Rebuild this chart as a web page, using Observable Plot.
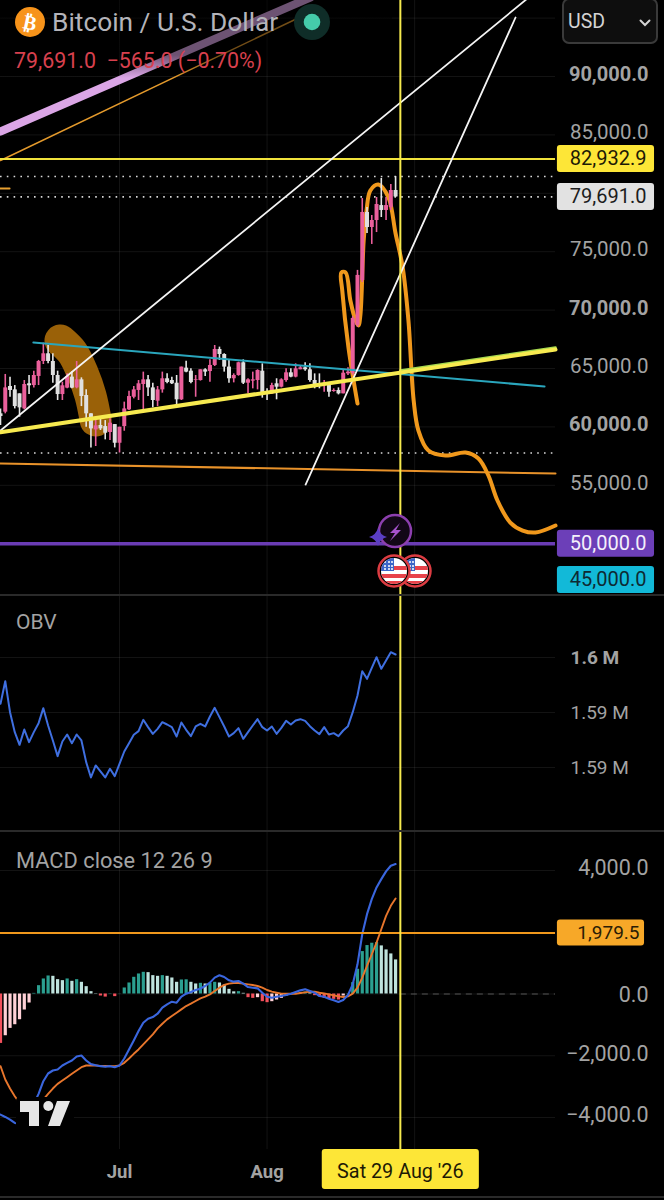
<!DOCTYPE html>
<html>
<head>
<meta charset="utf-8">
<script src="https://cdn.jsdelivr.net/npm/d3@7"></script>
<script src="https://cdn.jsdelivr.net/npm/@observablehq/plot@0.6"></script>
<style>
html,body{margin:0;padding:0;background:#000;}
#stage{position:relative;width:664px;height:1200px;overflow:hidden;background:#000;font-family:Roboto,sans-serif;}
#stage>svg,#stage>div.abs,#stage>.pane{position:absolute;}
.pane svg{display:block;}
.label{position:absolute;white-space:nowrap;line-height:1;}
</style>
</head>
<body>
<div id="stage"></div>
<script>
// ---------- price candles (daily, first candle 6 Jun 2026) ----------
const firstDay = Date.UTC(2026, 5, 6);
const candleOpen = [61120,61260,63460,63170,62830,61540,63690,63540,64320,65600,66260,65600,64400,62770,63320,64260,63340,64030,62690,61120,59740,60120,60030,59520,60200,58600,60030,61460,62540,63120,63630,64030,63340,62200,63170,64120,63970,63740,62320,65030,64770,63970,63970,64890,64740,65260,66630,66200,65120,64120,64400,65490,63740,63920,63970,64770,63030,62830,63690,63400,63970,64630,64260,64890,65060,64890,63970,63690,63540,63540,63030,63120,62830,64540,64570,68690,72530,78360,77070,77670,78950,78530,78780,80240];
const candleHigh = [61540,64490,64260,63540,62830,63970,64400,64770,65690,67170,66970,66260,64770,63830,64540,64690,65600,64200,63170,61120,60830,60830,60540,60690,60200,59970,62120,63060,63460,63970,64690,64400,63740,63460,64690,64540,64260,64400,65120,65630,64970,64400,64890,64970,65740,66970,66830,66260,65740,64540,65540,65740,64120,64690,64890,65400,63260,63740,64120,64120,64970,64970,65400,65170,65490,65400,64540,64540,63970,63630,63260,63340,64830,65060,69460,73400,79550,78780,78100,79640,81270,79640,80750,81440];
const candleLow = [60120,61120,62540,61540,60830,61460,62770,63340,63540,65340,65400,63740,62260,62260,63260,63260,63260,61740,59970,58200,58320,59690,58890,58830,58200,57770,59630,61400,62400,62260,61340,62600,61630,61740,62890,63690,63630,61920,62260,64630,63690,62540,63920,64320,63830,65170,65690,64690,63740,63770,64340,63630,62830,63260,63170,62460,62260,62770,62320,63340,63830,64200,64200,64890,64770,63830,63260,63260,62970,62540,62970,62740,62830,64400,64400,68520,72360,76560,75620,76640,77930,77670,78530,79640];
const candleClose = [60890,63340,63120,61740,61630,63630,63520,64400,65600,66260,65600,64400,62770,63520,64320,63320,64030,62600,61120,59830,60090,59830,59460,60320,58600,59970,61540,62600,63170,63690,64030,63340,62260,63170,64120,63800,63690,62320,65120,64690,63800,64030,64890,64690,65260,66630,66200,65120,64120,64400,65490,63740,64030,64030,64830,62890,62890,63540,63400,64030,64630,64260,64970,65060,64890,63970,63540,63540,63690,62970,63120,62830,64600,64690,69290,72970,78360,77070,77670,79040,78530,78950,80240,79691];

// ---------- indicators ----------
const obv = [1595788,1597848,1595031,1593213,1592061,1593455,1592304,1593213,1594031,1595394,1593819,1592455,1591031,1592364,1593000,1592213,1593000,1592455,1590486,1589092,1590183,1589637,1589092,1589880,1589213,1590334,1591455,1592213,1592970,1593303,1594334,1593667,1593061,1593515,1594121,1593909,1593667,1592819,1594091,1593425,1592849,1593728,1593970,1593728,1594637,1595424,1594576,1593728,1592819,1593122,1593576,1592607,1593213,1593819,1594394,1593667,1593364,1593728,1593061,1593606,1594243,1593909,1594273,1594394,1594243,1593758,1593364,1593031,1593667,1593000,1593122,1592849,1593364,1593758,1595031,1596546,1598757,1598060,1599060,1600030,1598970,1599727,1600485,1600273];
const macdLine = [-3906,-3982,-4069,-4177,-4198,-4014,-3798,-3560,-3235,-2824,-2575,-2478,-2445,-2316,-2229,-2153,-2024,-1991,-2153,-2272,-2305,-2337,-2359,-2337,-2370,-2316,-2088,-1796,-1504,-1201,-931,-801,-747,-639,-444,-336,-249,-282,-87,11,65,130,173,259,368,530,606,551,443,400,421,335,226,205,183,42,-87,-120,-87,-66,-33,10,64,118,151,97,42,-66,-87,-152,-206,-260,-196,-33,313,962,1936,2585,3072,3451,3721,3970,4154,4208];
const macdSignal = [-2337,-2770,-3062,-3311,-3527,-3744,-3798,-3711,-3560,-3419,-3235,-3062,-2911,-2803,-2694,-2586,-2478,-2370,-2316,-2316,-2316,-2327,-2327,-2337,-2337,-2316,-2229,-2088,-1937,-1796,-1634,-1472,-1309,-1115,-963,-822,-714,-606,-498,-390,-314,-228,-141,-87,-12,97,205,291,335,356,356,335,313,291,259,205,129,75,42,10,10,10,10,32,53,75,75,42,21,-12,-44,-77,-98,-77,10,205,529,908,1287,1666,2098,2531,2856,3094];
const macdHist = [-1601,-1352,-1114,-995,-833,-519,-292,20,270,487,584,573,465,433,487,411,465,379,238,76,11,-65,-100,10,-85,5,195,357,541,649,703,692,595,573,595,573,519,379,454,460,379,325,346,325,345,379,357,292,151,70,76,22,-119,-141,-119,-249,-281,-249,-195,-141,-65,-22,22,43,65,43,-54,-87,-141,-173,-173,-195,-65,10,368,801,1374,1569,1645,1666,1558,1428,1298,1104];

// ---------- drawn lines: day offsets from the first candle, and prices ----------
const lavenderDays = [0,65.1], lavenderPrices = [85290,96764];
const thinOrangeDays = [0,64.1], thinOrangePrices = [82808,95308];
const whiteADays = [0,110.7], whiteAPrices = [59690,96678];
const whiteBDays = [64.1,108.2], whiteBPrices = [55066,95051];
const trendDays = [0,116.6], trendPrices = [59545,66626];
const greenDays = [84,116.6], greenPrices = [64827,66797];
const tealDays = [6.9,114.3], tealPrices = [67225,63457];
const floorDays = [0,116.6], floorPrices = [56865,56008];
const stubDays = [0,1.9], stubPrices = [80410,80410];
const brushDays = [12.6,15.1,17.2,18.9,20], brushPrices = [67396,66369,64656,62687,60547];
const projectionDays = [75,73.1,71.8,71.6,72.5,73.5,74.6,75.2,75.6,76.3,76.9,77.7,79.4,81.5,83,84.5,85.7,86.8,87.8,89.9,93.5,97.7,100.4,102.5,104.4,107.1,109.7,112.4,116.6];
const projectionPrices = [62002,66797,71677,73218,73218,70821,69109,68680,69537,75958,78527,80239,80753,79640,76557,73646,69109,62259,59690,57978,57550,57807,57293,55837,53697,51813,51128,50957,51557];

// ---------- axes and tags ----------
const gridPrices = [95000,90000,85000,80000,75000,70000,65000,60000,55000];
const labelPrices = [85000,75000,65000,55000];
const labelPricesBold = [90000,70000,60000];
const priceTagLevels = [82932.9,79691,50000,46890];
const priceTagText = ["82,932.9","79,691.0","50,000.0","45,000.0"];
const obvTicks = [1600000,1595000,1590000];
const obvTickText = ["1.6 M","1.59 M","1.59 M"];
const macdTicks = [4000,-2000,-4000];
const macdTickText = ["4,000.0","−2,000.0","−4,000.0"];
const macdZero = 0, macdZeroText = "0.0";
const macdLevel = 1979.5, macdLevelText = "1,979.5";
const monthDays = [25,56], monthNames = ["Jul","Aug"], gridDays = [25,56,87];
const cursorDay = 84, cursorText = "Sat 29 Aug '26";

// ---------- styles ----------
const W = 664, FONT = "Roboto, sans-serif";
const GRID = "rgba(255,255,255,0.075)", YEL = "#f6ea4e", ORANGE = "#f0981c", TAGY = "#fde637";
const EDGE = 116.6;
const day = d => new Date(firstDay + d * 864e5);
const xScale = {type: "utc", domain: [day(0), day(664 / 4.76)], range: [0, W], axis: null};
const seg = (ds, vs) => ds.map((d, i) => ({x: day(d), y: vs[i]}));
const ln = (ds, vs, o) => Plot.line(seg(ds, vs), {x: "x", y: "y", ...o});
const candles = candleOpen.map((o, i) => ({x: day(i), o, h: candleHigh[i], l: candleLow[i], c: candleClose[i], up: candleClose[i] >= o}));
const base = {width: W, margin: 0, marginTop: 0, marginRight: 0, marginBottom: 0, marginLeft: 0,
  x: xScale, style: {background: "#000", fontFamily: FONT}};
const gridMarks = ticks => [
  Plot.ruleX(gridDays.map(day), {stroke: GRID, strokeWidth: 1}),
  Plot.ruleY(ticks, {x1: day(0), x2: day(EDGE), stroke: GRID, strokeWidth: 1})
];
const cursorRule = () => Plot.ruleX([day(cursorDay)], {stroke: YEL, strokeWidth: 2});
const dotted = (v) => Plot.ruleY([v], {x1: day(0), x2: day(EDGE), stroke: "#d8d8d8", strokeWidth: 1.6, strokeDasharray: "1.6 5.2"});

// ---------- price pane ----------
const hi = d3.max(candleHigh), lo = d3.min(candleLow), last = candleClose[candleClose.length - 1];
const tagFill = [TAGY, "#e2e2e2", "#6c3fb8", "#12b9d8"], tagInk = ["#1d1a05", "#1c1c1c", "#f4f0fb", "#0e2a33"];
const tags = priceTagLevels.map((v, i) => ({v, t: priceTagText[i], fill: tagFill[i], ink: tagInk[i]}));
const pricePane = Plot.plot({...base, height: 594,
  y: {type: "linear", domain: [90000, 50000], range: [76, 543.2], axis: null},
  marks: [
    ...gridMarks(gridPrices),
    ln(brushDays, brushPrices, {stroke: "#9a6108", strokeWidth: 32, strokeLinecap: "round", strokeLinejoin: "round", curve: "catmull-rom"}),
    ln(lavenderDays, lavenderPrices, {stroke: "#dba6e6", strokeWidth: 8}),
    ln(thinOrangeDays, thinOrangePrices, {stroke: "#e49a2c", strokeWidth: 1.5}),
    ln(floorDays, floorPrices, {stroke: "#e8922a", strokeWidth: 2}),
    ln(stubDays, stubPrices, {stroke: "#e8a030", strokeWidth: 2}),
    Plot.ruleY([50000], {x1: day(0), x2: day(EDGE), stroke: "#6a3cb4", strokeWidth: 3.5}),
    Plot.ruleY([priceTagLevels[0]], {x1: day(0), x2: day(EDGE), stroke: "#f1e33c", strokeWidth: 2}),
    dotted(hi), dotted(last), dotted(lo),
    ln(projectionDays, projectionPrices, {stroke: ORANGE, strokeWidth: 4, strokeLinecap: "round", curve: "catmull-rom"}),
    Plot.ruleX(candles, {x: "x", y1: "l", y2: "h", stroke: d => d.up ? "#ea5f9b" : "#e6e6e6", strokeWidth: 1.6}),
    Plot.ruleX(candles, {x: "x", y1: "o", y2: "c", stroke: d => d.up ? "#ea5f9b" : "#e0e0e0", strokeWidth: 4}),
    ln(tealDays, tealPrices, {stroke: "#2aa6bd", strokeWidth: 2}),
    ln(whiteADays, whiteAPrices, {stroke: "#f4f4f4", strokeWidth: 1.8}),
    ln(whiteBDays, whiteBPrices, {stroke: "#f4f4f4", strokeWidth: 1.8}),
    ln(greenDays, greenPrices, {stroke: "#a7d94f", strokeWidth: 2.5}),
    ln(trendDays, trendPrices, {stroke: "#f7ea50", strokeWidth: 4}),
    cursorRule(),
    Plot.text(labelPrices, {y: d => d, frameAnchor: "right", dx: -16, dy: -2, textAnchor: "end", text: d => d3.format(",.1f")(d), fill: "#a3a3a3", fontSize: 20.5}),
    Plot.text(labelPricesBold, {y: d => d, frameAnchor: "right", dx: -16, dy: -2, textAnchor: "end", text: d => d3.format(",.1f")(d), fill: "#a3a3a3", fontSize: 20, fontWeight: 700}),
    Plot.rect(tags, {x1: day(117), x2: day(137.4), y1: "v", y2: "v", insetTop: -13.5, insetBottom: -13.5, rx: 3, fill: "fill"}),
    Plot.text(tags, {y: "v", frameAnchor: "right", dx: -18, textAnchor: "end", text: "t", fill: "ink", fontSize: 20})
  ]});

// ---------- OBV pane ----------
const obvRows = obv.map((v, i) => ({x: day(i), y: v}));
const obvPane = Plot.plot({...base, height: 235,
  y: {type: "linear", domain: [1600000, 1590000], range: [62, 172], axis: null},
  marks: [
    ...gridMarks(obvTicks),
    Plot.line(obvRows, {x: "x", y: "y", stroke: "#3f6fe0", strokeWidth: 2}),
    cursorRule(),
    Plot.text([obvTicks[0]], {y: d => d, frameAnchor: "left", dx: 570, textAnchor: "start", text: () => obvTickText[0], fill: "#a3a3a3", fontSize: 19, fontWeight: 700}),
    Plot.text(obvTicks.slice(1), {y: d => d, frameAnchor: "left", dx: 570, textAnchor: "start", text: (d, i) => obvTickText[i + 1], fill: "#a3a3a3", fontSize: 19})
  ]});

// ---------- MACD pane ----------
const histRows = macdHist.map((v, i) => {
  const rising = i > 0 && v > macdHist[i - 1];
  return {x: day(i), v, fill: v >= 0 ? (rising ? "#2b9f90" : "#bfe3de") : (rising ? "#ffd0d6" : "#f2505c")};
});
const macdPane = Plot.plot({...base, height: 318,
  y: {type: "linear", domain: [4000, -4000], range: [39, 286], axis: null},
  marks: [
    ...gridMarks([...macdTicks, macdZero]),
    Plot.ruleY([macdZero], {x1: day(cursorDay), x2: day(EDGE), stroke: "#555", strokeWidth: 1, strokeDasharray: "6 5"}),
    Plot.ruleX(histRows, {x: "x", y1: 0, y2: "v", stroke: "fill", strokeWidth: 3.2}),
    Plot.line(macdSignal.map((v, i) => ({x: day(i), y: v})), {x: "x", y: "y", stroke: "#e8762c", strokeWidth: 1.9}),
    Plot.line(macdLine.map((v, i) => ({x: day(i), y: v})), {x: "x", y: "y", stroke: "#3a66de", strokeWidth: 2.1}),
    Plot.ruleY([macdLevel], {x1: day(0), x2: day(EDGE), stroke: ORANGE, strokeWidth: 2}),
    cursorRule(),
    Plot.text(macdTicks, {y: d => d, frameAnchor: "right", dx: -16, dy: -2, textAnchor: "end", text: (d, i) => macdTickText[i], fill: "#a3a3a3", fontSize: 21.5}),
    Plot.text([macdZero], {y: d => d, frameAnchor: "right", dx: -16, dy: 1, textAnchor: "end", text: () => macdZeroText, fill: "#a3a3a3", fontSize: 21.5}),
    Plot.rect([macdLevel], {x1: day(117), x2: day(135.3), y1: d => d, y2: d => d, insetTop: -13, insetBottom: -13, rx: 3, fill: "#f7a828"}),
    Plot.text([macdLevel], {y: d => d, frameAnchor: "right", dx: -25, textAnchor: "end", text: () => macdLevelText, fill: "#2a1c05", fontSize: 19})
  ]});

// ---------- date axis ----------
const datePane = Plot.plot({...base, height: 40, y: {axis: null},
  marks: [
    Plot.text(monthDays, {x: day, frameAnchor: "middle", dy: 3, text: (d, i) => monthNames[i], fill: "#a3a3a3", fontSize: 18.5, fontWeight: 700, textAnchor: "middle"}),
    Plot.rect([cursorDay], {x1: day(67.6), x2: day(100.6), rx: 3, fill: TAGY}),
    Plot.text([cursorDay], {x: day, frameAnchor: "middle", dy: 2, text: () => cursorText, fill: "#1d1a05", fontSize: 19.8, textAnchor: "middle"})
  ]});

// ---------- page assembly ----------
const stage = document.getElementById("stage");
const place = (node, top) => { const w = document.createElement("div"); w.className = "pane"; w.style.top = top + "px"; w.style.left = "0"; w.append(node); stage.append(w); };
place(pricePane, 0); place(obvPane, 595); place(macdPane, 831); place(datePane, 1149);

const html = (s) => { const t = document.createElement("template"); t.innerHTML = s.trim(); stage.append(t.content.firstChild); };
// header dimming over the drawings
html(`<div class="abs" style="left:0;top:0;width:392px;height:78px;background:linear-gradient(rgba(0,0,0,.5) 0,rgba(0,0,0,.5) 55px,rgba(0,0,0,0) 78px)"></div>`);
// dividers
for (const y of [594, 830, 1196]) html(`<div class="abs" style="left:0;top:${y}px;width:664px;height:2px;background:#2a2a2a"></div>`);
// header
html(`<svg width="664" height="80" style="position:absolute;left:0;top:0;pointer-events:none">
  <circle cx="30" cy="22" r="15" fill="#f7931a"/>
  <text x="30" y="29.5" text-anchor="middle" font-family="DejaVu Sans" font-weight="700" font-size="20" fill="#fff" transform="rotate(12 30 22)">₿</text>
  <circle cx="312" cy="22" r="18" fill="#0f2d28"/><circle cx="312" cy="22" r="8.3" fill="#45cbaa"/>
</svg>`);
html(`<span class="label" style="left:52px;top:9px;font-size:26.3px;color:#b4b4ba">Bitcoin / U.S. Dollar</span>`);
html(`<span class="label" style="left:14px;top:50px;font-size:21.4px;color:#d8404e">79,691.0&nbsp; −565.0 (−0.70%)</span>`);
html(`<span class="label" style="left:16px;top:612px;font-size:21px;color:#a3a3a3">OBV</span>`);
html(`<span class="label" style="left:16px;top:850px;font-size:21.8px;color:#a3a3a3">MACD close 12 26 9</span>`);
// currency box
html(`<div class="abs" style="left:562px;top:-2px;width:92px;height:42px;border:2px solid #3a3a3a;border-radius:7px;background:#0e0e0e"></div>`);
html(`<span class="label" style="left:568px;top:12px;font-size:19.5px;color:#d4d4d4">USD</span>`);
html(`<svg width="14" height="10" style="position:absolute;left:638px;top:18px"><path d="M2.5 2.5 L7 7 L11.5 2.5" fill="none" stroke="#d4d4d4" stroke-width="2" stroke-linecap="round"/></svg>`);
// event icons and watermark
html(`<svg width="664" height="1200" style="position:absolute;left:0;top:0;pointer-events:none">
  <defs>
    <clipPath id="fa"><circle cx="394" cy="571" r="13"/></clipPath>
    <clipPath id="fb"><circle cx="415" cy="571" r="13"/></clipPath>
    <g id="flag"><rect x="-13" y="-13" width="26" height="26" fill="#fff"/>
      <rect x="-13" y="-5" width="26" height="4" fill="#e8424a"/><rect x="-13" y="3" width="26" height="4" fill="#e8424a"/><rect x="-13" y="10" width="26" height="4" fill="#e8424a"/>
      <rect x="-13" y="-13" width="13" height="13" fill="#3c66c8"/>
      <g fill="#fff"><circle cx="-9" cy="-9" r="1"/><circle cx="-5" cy="-9" r="1"/><circle cx="-2" cy="-9" r="1"/><circle cx="-9" cy="-5" r="1"/><circle cx="-5" cy="-5" r="1"/><circle cx="-2" cy="-5" r="1"/><circle cx="-9" cy="-2" r="1"/><circle cx="-5" cy="-2" r="1"/><circle cx="-2" cy="-2" r="1"/></g></g>
  </defs>
  <circle cx="395" cy="531" r="16" fill="#120716" stroke="#8c3fae" stroke-width="2.5"/>
  <path d="M400 523 L390 533 L395 533 L390 541 L401 530 L396 530 Z" fill="#a653cc"/>
  <path d="M378 528 Q380 535 387 537 Q380 539 378 546 Q376 539 369 537 Q376 535 378 528 Z" fill="#5a3ec4"/>
  <circle cx="415" cy="571" r="15.5" fill="#000" stroke="#dc3c42" stroke-width="2.5"/>
  <g clip-path="url(#fb)"><use href="#flag" x="415" y="571"/></g>
  <circle cx="394" cy="571" r="15.5" fill="#000" stroke="#dc3c42" stroke-width="2.5"/>
  <g clip-path="url(#fa)"><use href="#flag" x="394" y="571"/></g>
  <rect x="16" y="1097" width="58" height="33" rx="4" fill="#000"/>
  <path d="M20 1101 H39 V1126 H29 V1112 H20 Z M57 1101 H70 L60 1126 H48 Z" fill="#e6e6e6"/>
  <circle cx="48.3" cy="1106" r="5" fill="#e6e6e6"/>
</svg>`);
</script>
</body>
</html>
